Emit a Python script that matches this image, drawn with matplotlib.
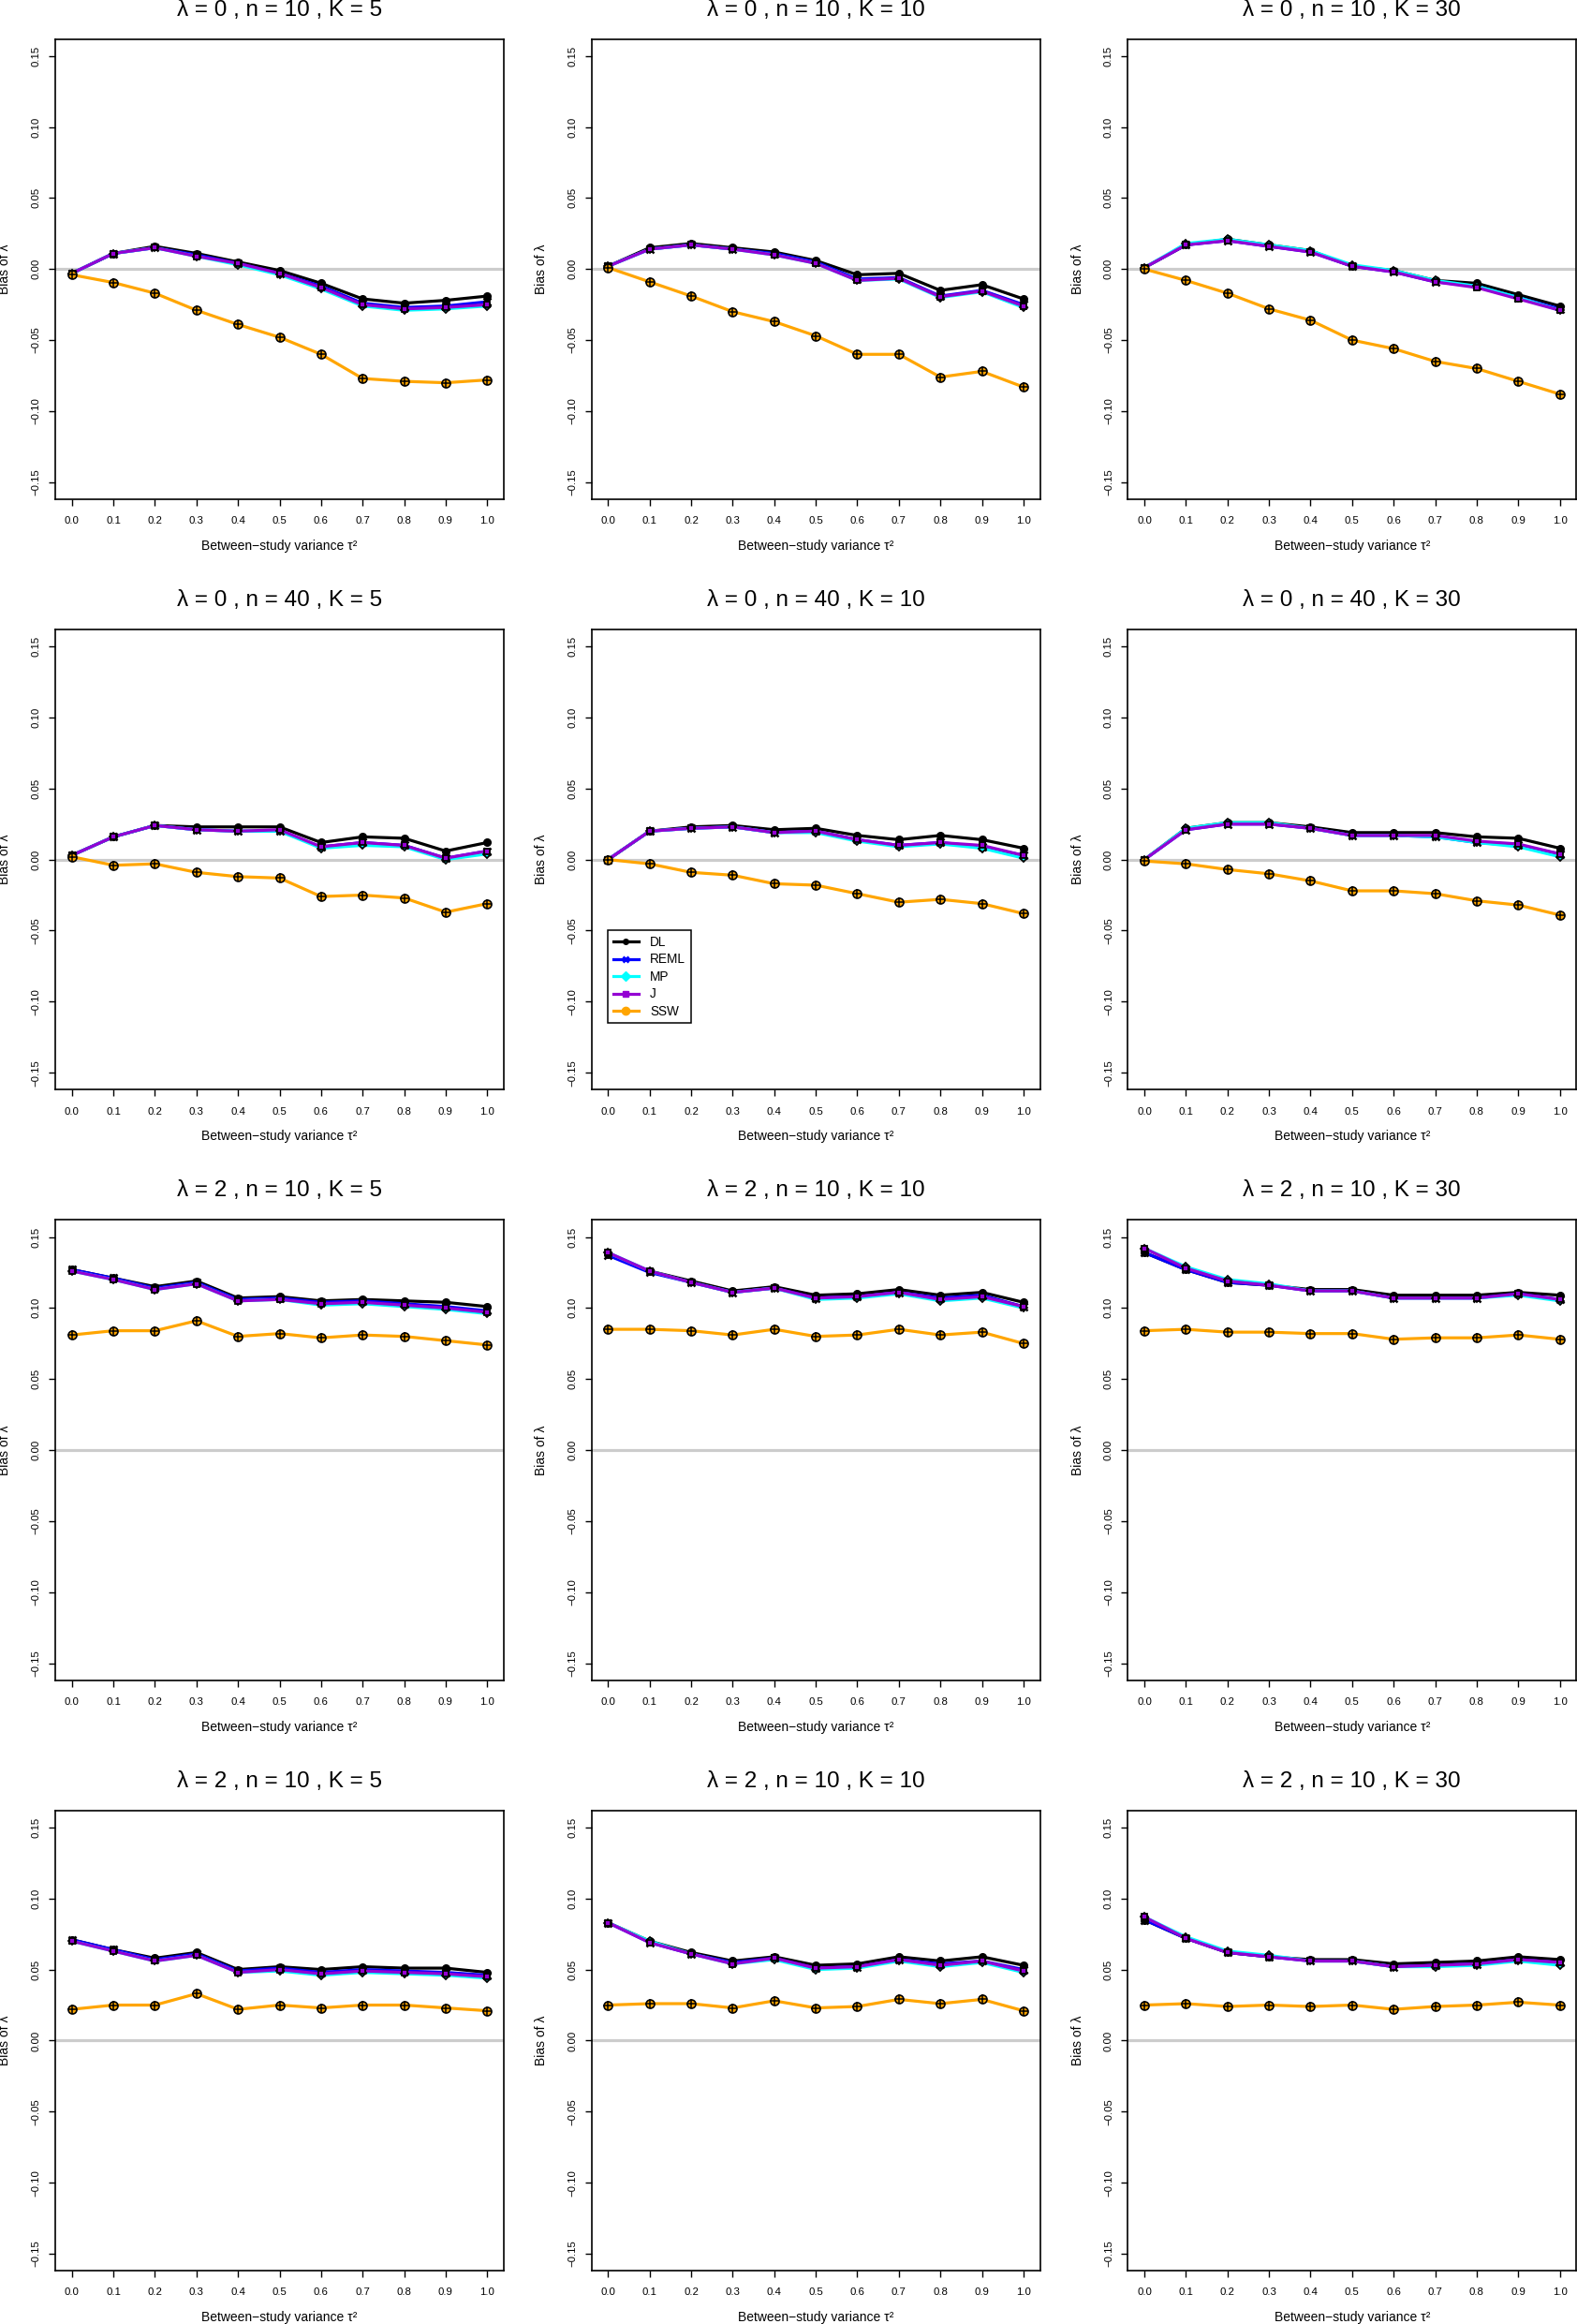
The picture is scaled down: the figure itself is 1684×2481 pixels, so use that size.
import matplotlib
matplotlib.use("Agg")
import matplotlib.pyplot as plt
from matplotlib.transforms import offset_copy
from matplotlib.lines import Line2D

plt.rcParams['font.family'] = ['Liberation Sans', 'DejaVu Sans']

# ---------------- data ----------------
TAU2 = [0.0, 0.1, 0.2, 0.3, 0.4, 0.5, 0.6, 0.7, 0.8, 0.9, 1.0]
X_TICK_LABELS = ["0.0", "0.1", "0.2", "0.3", "0.4", "0.5", "0.6", "0.7", "0.8", "0.9", "1.0"]
Y_TICKS = [-0.15, -0.10, -0.05, 0.00, 0.05, 0.10, 0.15]
Y_TICK_LABELS = ["\u22120.15", "\u22120.10", "\u22120.05", "0.00", "0.05", "0.10", "0.15"]

LAMBDA = [0, 0, 0, 0, 0, 0, 2, 2, 2, 2, 2, 2]
N_SIZE = [10, 10, 10, 40, 40, 40, 10, 10, 10, 10, 10, 10]
K_STUDIES = [5, 10, 30, 5, 10, 30, 5, 10, 30, 5, 10, 30]

METHODS = ["DL", "REML", "MP", "J", "SSW"]

DL_BIAS = [
    [-0.003, 0.011, 0.016, 0.011, 0.005, -0.001, -0.010, -0.021, -0.024, -0.022, -0.019],
    [0.002, 0.015, 0.018, 0.015, 0.012, 0.006, -0.004, -0.003, -0.015, -0.011, -0.021],
    [0.001, 0.017, 0.021, 0.017, 0.013, 0.002, -0.001, -0.008, -0.010, -0.018, -0.026],
    [0.003, 0.016, 0.024, 0.023, 0.023, 0.023, 0.012, 0.016, 0.015, 0.006, 0.012],
    [0.000, 0.020, 0.023, 0.024, 0.021, 0.022, 0.017, 0.014, 0.017, 0.014, 0.008],
    [0.000, 0.022, 0.026, 0.026, 0.023, 0.019, 0.019, 0.019, 0.016, 0.015, 0.008],
    [0.127, 0.121, 0.115, 0.119, 0.107, 0.108, 0.105, 0.106, 0.105, 0.104, 0.101],
    [0.138, 0.126, 0.119, 0.112, 0.115, 0.109, 0.110, 0.113, 0.109, 0.111, 0.104],
    [0.139, 0.127, 0.118, 0.116, 0.113, 0.113, 0.109, 0.109, 0.109, 0.111, 0.109],
    [0.071, 0.064, 0.058, 0.062, 0.050, 0.052, 0.050, 0.052, 0.051, 0.051, 0.048],
    [0.083, 0.070, 0.062, 0.056, 0.059, 0.053, 0.054, 0.059, 0.056, 0.059, 0.053],
    [0.085, 0.072, 0.062, 0.059, 0.057, 0.057, 0.054, 0.055, 0.056, 0.059, 0.057],
]
REML_BIAS = [
    [-0.003, 0.011, 0.015, 0.010, 0.004, -0.003, -0.012, -0.024, -0.027, -0.026, -0.023],
    [0.002, 0.014, 0.017, 0.014, 0.011, 0.005, -0.007, -0.006, -0.019, -0.015, -0.025],
    [0.001, 0.017, 0.020, 0.016, 0.012, 0.002, -0.002, -0.009, -0.012, -0.020, -0.028],
    [0.003, 0.016, 0.024, 0.021, 0.020, 0.020, 0.009, 0.012, 0.010, 0.001, 0.006],
    [0.000, 0.020, 0.022, 0.023, 0.019, 0.020, 0.014, 0.010, 0.012, 0.009, 0.003],
    [0.000, 0.021, 0.025, 0.025, 0.022, 0.017, 0.017, 0.016, 0.012, 0.010, 0.004],
    [0.127, 0.121, 0.114, 0.118, 0.106, 0.107, 0.104, 0.105, 0.103, 0.101, 0.098],
    [0.137, 0.125, 0.118, 0.111, 0.114, 0.107, 0.108, 0.111, 0.107, 0.109, 0.101],
    [0.139, 0.127, 0.118, 0.116, 0.112, 0.112, 0.107, 0.107, 0.107, 0.110, 0.106],
    [0.071, 0.064, 0.057, 0.061, 0.049, 0.051, 0.048, 0.050, 0.049, 0.048, 0.046],
    [0.083, 0.069, 0.061, 0.055, 0.058, 0.051, 0.052, 0.057, 0.054, 0.056, 0.050],
    [0.085, 0.072, 0.062, 0.059, 0.056, 0.056, 0.052, 0.053, 0.054, 0.057, 0.055],
]
MP_BIAS = [
    [-0.003, 0.011, 0.015, 0.009, 0.003, -0.004, -0.014, -0.026, -0.029, -0.028, -0.026],
    [0.002, 0.014, 0.017, 0.014, 0.010, 0.004, -0.008, -0.007, -0.020, -0.016, -0.027],
    [0.001, 0.018, 0.021, 0.017, 0.013, 0.003, -0.001, -0.008, -0.012, -0.020, -0.029],
    [0.003, 0.016, 0.024, 0.021, 0.020, 0.020, 0.008, 0.010, 0.009, 0.000, 0.004],
    [0.000, 0.020, 0.022, 0.023, 0.019, 0.019, 0.013, 0.009, 0.011, 0.008, 0.001],
    [0.000, 0.022, 0.026, 0.026, 0.022, 0.017, 0.017, 0.016, 0.012, 0.009, 0.002],
    [0.126, 0.120, 0.113, 0.117, 0.105, 0.106, 0.102, 0.103, 0.101, 0.099, 0.096],
    [0.139, 0.126, 0.118, 0.111, 0.114, 0.106, 0.107, 0.110, 0.105, 0.107, 0.100],
    [0.142, 0.129, 0.120, 0.117, 0.112, 0.112, 0.107, 0.107, 0.107, 0.109, 0.105],
    [0.070, 0.063, 0.056, 0.060, 0.048, 0.049, 0.046, 0.048, 0.047, 0.046, 0.044],
    [0.083, 0.070, 0.061, 0.054, 0.057, 0.050, 0.051, 0.056, 0.052, 0.055, 0.048],
    [0.087, 0.073, 0.063, 0.060, 0.056, 0.056, 0.052, 0.052, 0.053, 0.056, 0.053],
]
J_BIAS = [
    [-0.003, 0.011, 0.015, 0.009, 0.004, -0.003, -0.013, -0.025, -0.028, -0.027, -0.025],
    [0.002, 0.014, 0.017, 0.014, 0.010, 0.004, -0.008, -0.0065, -0.0195, -0.0155, -0.026],
    [0.001, 0.017, 0.020, 0.016, 0.012, 0.002, -0.002, -0.009, -0.013, -0.021, -0.029],
    [0.003, 0.016, 0.024, 0.021, 0.020, 0.021, 0.009, 0.012, 0.010, 0.001, 0.006],
    [0.000, 0.020, 0.022, 0.023, 0.019, 0.020, 0.014, 0.010, 0.012, 0.010, 0.003],
    [0.000, 0.021, 0.025, 0.025, 0.022, 0.017, 0.017, 0.017, 0.013, 0.011, 0.004],
    [0.126, 0.120, 0.113, 0.117, 0.105, 0.106, 0.103, 0.104, 0.102, 0.100, 0.097],
    [0.139, 0.126, 0.118, 0.111, 0.114, 0.107, 0.108, 0.111, 0.106, 0.108, 0.101],
    [0.142, 0.128, 0.119, 0.116, 0.112, 0.112, 0.107, 0.107, 0.107, 0.110, 0.106],
    [0.070, 0.063, 0.056, 0.060, 0.048, 0.050, 0.047, 0.049, 0.048, 0.047, 0.045],
    [0.083, 0.069, 0.061, 0.054, 0.058, 0.051, 0.052, 0.057, 0.053, 0.056, 0.049],
    [0.087, 0.072, 0.062, 0.059, 0.056, 0.056, 0.052, 0.053, 0.054, 0.057, 0.055],
]
SSW_BIAS = [
    [-0.004, -0.0095, -0.017, -0.029, -0.039, -0.048, -0.060, -0.077, -0.079, -0.080, -0.078],
    [0.001, -0.009, -0.019, -0.030, -0.037, -0.047, -0.060, -0.060, -0.076, -0.072, -0.083],
    [0.000, -0.008, -0.017, -0.028, -0.036, -0.050, -0.056, -0.065, -0.070, -0.079, -0.088],
    [0.002, -0.004, -0.003, -0.009, -0.012, -0.013, -0.026, -0.025, -0.027, -0.037, -0.031],
    [0.000, -0.003, -0.009, -0.011, -0.017, -0.018, -0.024, -0.030, -0.028, -0.031, -0.038],
    [-0.001, -0.003, -0.007, -0.010, -0.015, -0.022, -0.022, -0.024, -0.029, -0.032, -0.039],
    [0.081, 0.084, 0.084, 0.091, 0.080, 0.082, 0.079, 0.081, 0.080, 0.077, 0.074],
    [0.085, 0.085, 0.084, 0.081, 0.085, 0.080, 0.081, 0.085, 0.081, 0.083, 0.075],
    [0.084, 0.085, 0.083, 0.083, 0.082, 0.082, 0.078, 0.079, 0.079, 0.081, 0.078],
    [0.022, 0.025, 0.025, 0.033, 0.022, 0.025, 0.023, 0.025, 0.025, 0.023, 0.021],
    [0.025, 0.026, 0.026, 0.023, 0.028, 0.023, 0.024, 0.029, 0.026, 0.029, 0.021],
    [0.025, 0.026, 0.024, 0.025, 0.024, 0.025, 0.022, 0.024, 0.025, 0.027, 0.025],
]

# ---------------- style ----------------
COLORS = {"DL": "black", "REML": "#0000FF", "MP": "#00FFFF", "J": "#9400D3", "SSW": "#FFA500"}
PX = 0.72  # points per pixel at dpi 100

W, H = 1684, 2481
fig = plt.figure(figsize=(W / 100, H / 100), dpi=100)

col_left = [59, 631.6, 1204.3]
row_top = [41.5, 671.9, 1302.3, 1932.7]
aw, ah = 479, 491.5

series_all = [DL_BIAS, REML_BIAS, MP_BIAS, J_BIAS, SSW_BIAS]
LW = 2.3

for i in range(12):
    r, c = divmod(i, 3)
    ax = fig.add_axes([col_left[c] / W, 1 - (row_top[r] + ah) / H, aw / W, ah / H])
    ax.set_xlim(-0.04, 1.04)
    ax.set_ylim(-0.162, 0.162)

    ax.axhline(0, color="#CCCCCC", lw=2.3, zorder=1)

    for name, data in zip(METHODS, series_all):
        y = data[i]
        col = COLORS[name]
        ax.plot(TAU2, y, color=col, lw=LW, zorder=2, solid_joinstyle="round")
        if name == "DL":
            ax.plot(TAU2, y, ls="none", marker="o", ms=5.5, mfc="black", mec="black", zorder=3)
        elif name == "REML":
            ax.plot(TAU2, y, ls="none", marker="x", ms=5.5, mec="black", mew=1.8, zorder=3)
        elif name == "MP":
            ax.plot(TAU2, y, ls="none", marker="D", ms=4.5, mfc=col, mec="black", mew=1.3, zorder=3)
        elif name == "J":
            ax.plot(TAU2, y, ls="none", marker="s", ms=4.5, mfc=col, mec="black", mew=1.3, zorder=3)
        else:
            ax.plot(TAU2, y, ls="none", marker="o", ms=6.5, mfc=col, mec="black", mew=1.2, zorder=3)
            ax.plot(TAU2, y, ls="none", marker="+", ms=6.5, mec="black", mew=1.1, zorder=4)

    ax.set_xticks(TAU2)
    ax.set_xticklabels(X_TICK_LABELS)
    ax.set_yticks(Y_TICKS)
    ax.set_yticklabels(Y_TICK_LABELS, rotation=90, va="center")
    ax.tick_params(axis="both", direction="out", length=7 * PX, width=1.0,
                   labelsize=8.2, colors="black")
    ax.tick_params(axis="x", pad=8)
    ax.tick_params(axis="y", pad=6)
    for sp in ax.spines.values():
        sp.set_linewidth(1.2)
        sp.set_color("black")

    title = "\u03bb = %d , n = %d , K = %d" % (LAMBDA[i], N_SIZE[i], K_STUDIES[i])
    ax.text(0.5, 1.0, title, ha="center", va="center", fontsize=17.5,
            transform=offset_copy(ax.transAxes, fig, x=0, y=30.8 * PX, units="points"))
    ax.text(0.5, 0.0, "Between\u2212study variance \u03c4\u00b2", ha="center", va="center",
            fontsize=10, transform=offset_copy(ax.transAxes, fig, x=0, y=-50 * PX, units="points"))
    ax.text(0.0, 0.5, "Bias of \u03bb", ha="center", va="center", rotation=90, fontsize=10,
            transform=offset_copy(ax.transAxes, fig, x=-53.6 * PX, y=0, units="points"))

    if i == 4:
        handles = [
            Line2D([], [], color="black", lw=LW, marker="o", ms=4, mfc="black", mec="black"),
            Line2D([], [], color=COLORS["REML"], lw=LW, marker="x", ms=5, mew=2, mec=COLORS["REML"]),
            Line2D([], [], color=COLORS["MP"], lw=LW, marker="D", ms=5, mfc=COLORS["MP"], mec=COLORS["MP"]),
            Line2D([], [], color=COLORS["J"], lw=LW, marker="s", ms=5, mfc=COLORS["J"], mec=COLORS["J"]),
            Line2D([], [], color=COLORS["SSW"], lw=LW, marker="o", ms=6, mfc=COLORS["SSW"], mec=COLORS["SSW"]),
        ]
        leg = ax.legend(handles, METHODS, loc="upper left", bbox_to_anchor=(0.0, -0.05),
                        bbox_transform=ax.transData, frameon=True, fancybox=False,
                        edgecolor="black", framealpha=1, fontsize=9.8, handlelength=2.0,
                        handletextpad=0.9, labelspacing=0.33, borderpad=0.4,
                        borderaxespad=0)
        leg.get_frame().set_linewidth(1.1)

fig.savefig("out.png", dpi=100, facecolor="white")
